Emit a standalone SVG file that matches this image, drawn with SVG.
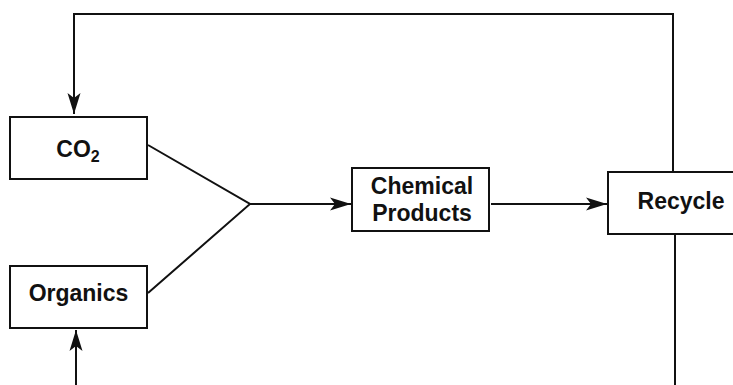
<svg xmlns="http://www.w3.org/2000/svg" width="733" height="385" viewBox="0 0 733 385">
<style>
.box{fill:#fff;stroke:#111;stroke-width:2}
.ln{fill:none;stroke:#111;stroke-width:2}
.t{font-family:"Liberation Sans",Arial,sans-serif;font-weight:bold;font-size:23px;fill:#111;text-anchor:middle}
</style>
<defs>
<marker id="ah" markerUnits="userSpaceOnUse" markerWidth="22" markerHeight="14" viewBox="0 0 22 14" refX="21" refY="7" orient="auto">
<path d="M0,0.5 L21,7 L0,13.5 L5,7 Z" fill="#111"/>
</marker>
</defs>
<g id="connectors">
<path class="ln" d="M673,172 V14 H74 V114" marker-end="url(#ah)"/>
<path class="ln" d="M148,145 L250,204 L148,293"/>
<path class="ln" d="M250,204 H351" marker-end="url(#ah)"/>
<path class="ln" d="M491,204 H607" marker-end="url(#ah)"/>
<path class="ln" d="M675,234 V385"/>
<path class="ln" d="M76,385 V330" marker-end="url(#ah)"/>
</g>
<g id="co2">
<rect class="box" x="10" y="117" width="137" height="62"/>
<text class="t" x="78" y="157">CO<tspan font-size="16" dy="5">2</tspan></text>
</g>
<g id="organics">
<rect class="box" x="10" y="266" width="137" height="62"/>
<text class="t" x="78.5" y="301">Organics</text>
</g>
<g id="chemical">
<rect class="box" x="352" y="168" width="137" height="63"/>
<text class="t" x="422" y="194">Chemical</text>
<text class="t" x="422" y="221">Products</text>
</g>
<g id="recycle">
<rect class="box" x="608" y="172" width="135" height="62"/>
<text class="t" x="681" y="209">Recycle</text>
</g>
</svg>
